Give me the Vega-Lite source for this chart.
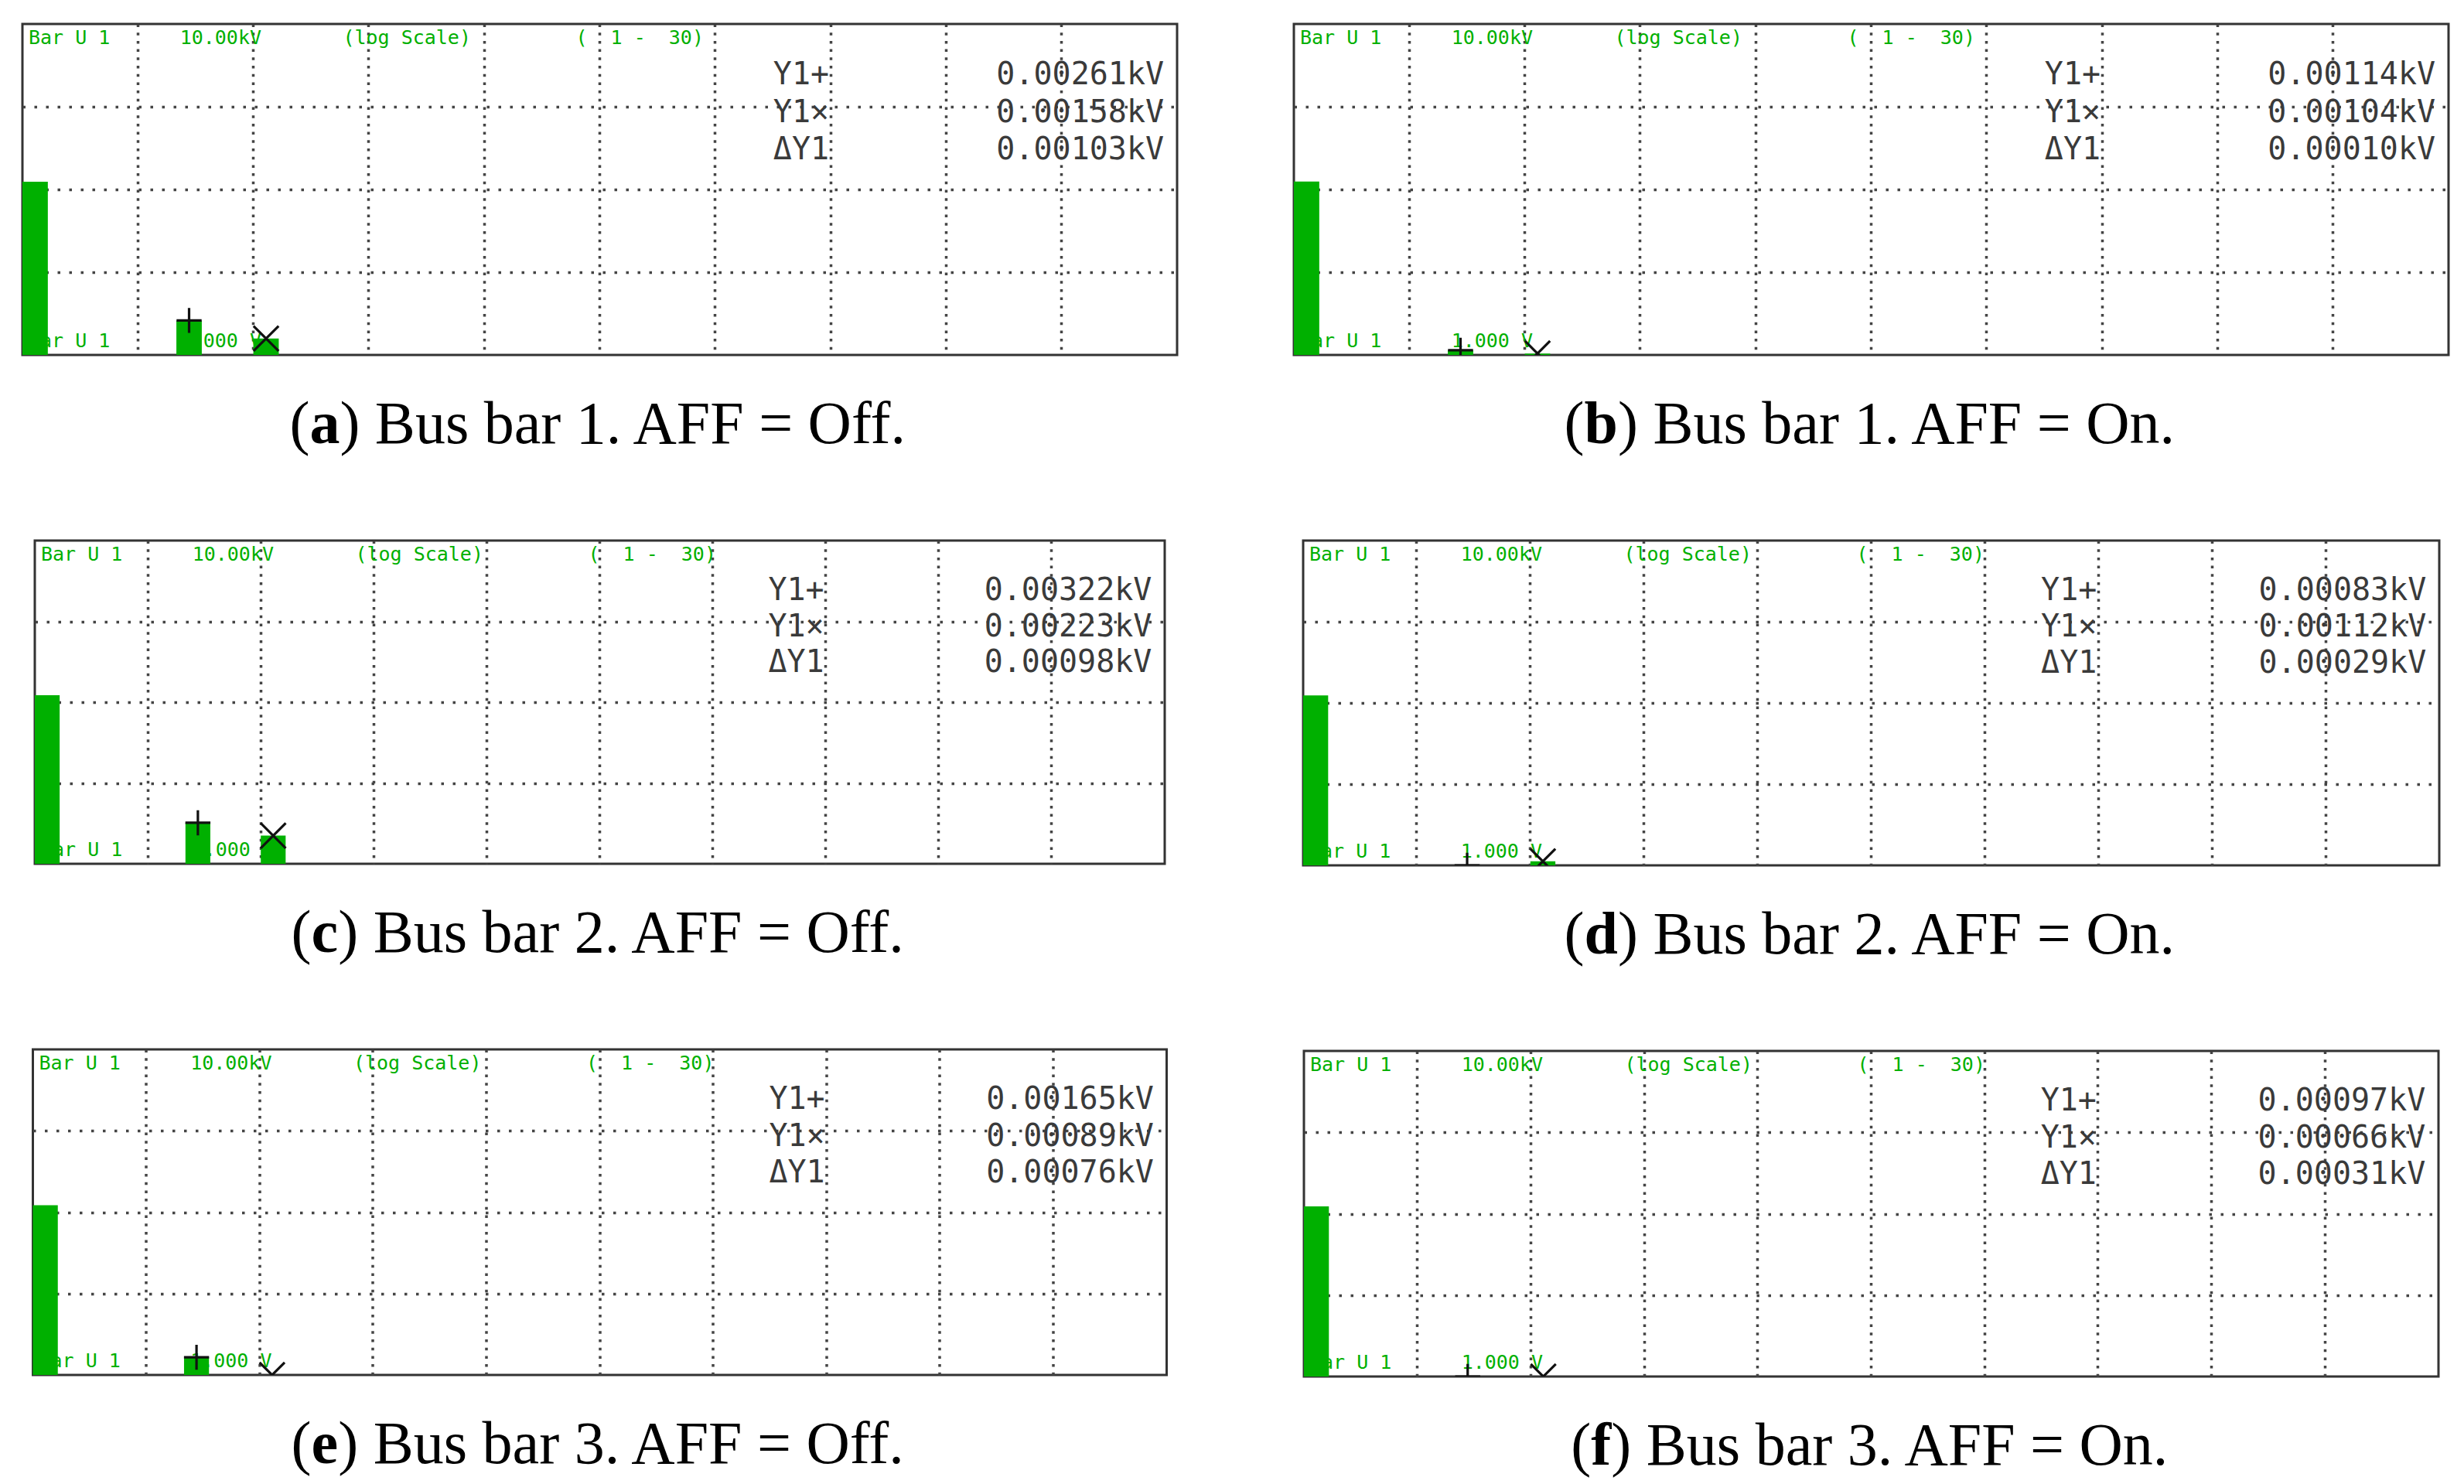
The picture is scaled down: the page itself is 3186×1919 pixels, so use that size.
{
"$schema": "https://vega.github.io/schema/vega-lite/v6.json",
"background": "white",
"padding": {"left": 27, "top": 29, "right": 0, "bottom": 0},
"config": {"view": {"stroke": "#333333", "strokeWidth": 3}},
"datasets": {
"bars": [
{"panel": "a", "h": 1, "volts": 124, "cursor": null},
{"panel": "a", "h": 5, "volts": 2.61, "cursor": "+"},
{"panel": "a", "h": 7, "volts": 1.58, "cursor": "×"},
{"panel": "b", "h": 1, "volts": 125, "cursor": null},
{"panel": "b", "h": 5, "volts": 1.14, "cursor": "+"},
{"panel": "b", "h": 7, "volts": 1.04, "cursor": "×"},
{"panel": "c", "h": 1, "volts": 122, "cursor": null},
{"panel": "c", "h": 5, "volts": 3.22, "cursor": "+"},
{"panel": "c", "h": 7, "volts": 2.23, "cursor": "×"},
{"panel": "d", "h": 1, "volts": 124, "cursor": null},
{"panel": "d", "h": 5, "volts": 0.83, "cursor": "+"},
{"panel": "d", "h": 7, "volts": 1.12, "cursor": "×"},
{"panel": "e", "h": 1, "volts": 122, "cursor": null},
{"panel": "e", "h": 5, "volts": 1.65, "cursor": "+"},
{"panel": "e", "h": 7, "volts": 0.89, "cursor": "×"},
{"panel": "f", "h": 1, "volts": 123, "cursor": null},
{"panel": "f", "h": 5, "volts": 0.97, "cursor": "+"},
{"panel": "f", "h": 7, "volts": 0.66, "cursor": "×"}
],
"readouts": [
{"panel": "a", "line": 1, "label": "Y1+", "reading": "0.00261kV"},
{"panel": "a", "line": 2, "label": "Y1×", "reading": "0.00158kV"},
{"panel": "a", "line": 3, "label": "ΔY1", "reading": "0.00103kV"},
{"panel": "b", "line": 1, "label": "Y1+", "reading": "0.00114kV"},
{"panel": "b", "line": 2, "label": "Y1×", "reading": "0.00104kV"},
{"panel": "b", "line": 3, "label": "ΔY1", "reading": "0.00010kV"},
{"panel": "c", "line": 1, "label": "Y1+", "reading": "0.00322kV"},
{"panel": "c", "line": 2, "label": "Y1×", "reading": "0.00223kV"},
{"panel": "c", "line": 3, "label": "ΔY1", "reading": "0.00098kV"},
{"panel": "d", "line": 1, "label": "Y1+", "reading": "0.00083kV"},
{"panel": "d", "line": 2, "label": "Y1×", "reading": "0.00112kV"},
{"panel": "d", "line": 3, "label": "ΔY1", "reading": "0.00029kV"},
{"panel": "e", "line": 1, "label": "Y1+", "reading": "0.00165kV"},
{"panel": "e", "line": 2, "label": "Y1×", "reading": "0.00089kV"},
{"panel": "e", "line": 3, "label": "ΔY1", "reading": "0.00076kV"},
{"panel": "f", "line": 1, "label": "Y1+", "reading": "0.00097kV"},
{"panel": "f", "line": 2, "label": "Y1×", "reading": "0.00066kV"},
{"panel": "f", "line": 3, "label": "ΔY1", "reading": "0.00031kV"}
],
"captions": [
{"panel": "a", "letter": "a", "rest": ") Bus bar 1. AFF = Off."},
{"panel": "b", "letter": "b", "rest": ") Bus bar 1. AFF = On."},
{"panel": "c", "letter": "c", "rest": ") Bus bar 2. AFF = Off."},
{"panel": "d", "letter": "d", "rest": ") Bus bar 2. AFF = On."},
{"panel": "e", "letter": "e", "rest": ") Bus bar 3. AFF = Off."},
{"panel": "f", "letter": "f", "rest": ") Bus bar 3. AFF = On."}
]
},
"spacing": 147,
"hconcat": [
{"vconcat": [
{"width": 1493, "height": 428, "resolve": {"scale": {"y": "independent"}}, "layer": [
 {"layer": [
  {"data": {"values": [{}]}, "mark": {"type": "text", "text": "Bar\u00a0U\u00a01\u00a0\u00a0\u00a0\u00a0\u00a0\u00a010.00kV\u00a0\u00a0\u00a0\u00a0\u00a0\u00a0\u00a0(log\u00a0Scale)\u00a0\u00a0\u00a0\u00a0\u00a0\u00a0\u00a0\u00a0\u00a0(\u00a0\u00a01\u00a0-\u00a0\u00a030)", "font": "DejaVu Sans Mono", "fontSize": 25, "color": "#00b000", "align": "left", "baseline": "top", "dx": 8, "dy": 6}, "encoding": {"x": {"datum": 1, "type": "ordinal", "bandPosition": 0}, "y": {"datum": 10000, "type": "quantitative"}}},
  {"data": {"values": [{}]}, "mark": {"type": "text", "text": "Bar\u00a0U\u00a01\u00a0\u00a0\u00a0\u00a0\u00a0\u00a01.000\u00a0V", "font": "DejaVu Sans Mono", "fontSize": 25, "color": "#00b000", "align": "left", "baseline": "alphabetic", "dx": 8, "dy": -10}, "encoding": {"x": {"datum": 1, "type": "ordinal", "bandPosition": 0}, "y": {"datum": 1, "type": "quantitative"}}},
  {"data": {"name": "bars"}, "transform": [{"filter": "datum.panel === 'a'"}], "mark": {"type": "bar", "color": "#00b000"}, "encoding": {"x": {"field": "h", "type": "ordinal", "scale": {"domain": [1,2,3,4,5,6,7,8,9,10,11,12,13,14,15,16,17,18,19,20,21,22,23,24,25,26,27,28,29,30], "paddingInner": 0.34, "paddingOuter": 0.17, "align": 0}, "axis": {"values": [4,7,10,13,16,19,22,25,28], "bandPosition": 0, "grid": true, "gridColor": "#444444", "gridDash": [3.5, 7.2], "gridWidth": 3.5, "gridOpacity": 1, "labels": false, "ticks": false, "domain": false, "title": null}}, "y": {"field": "volts", "type": "quantitative", "scale": {"type": "log", "domain": [1, 10000], "clamp": true, "nice": false}, "axis": {"values": [10, 100, 1000], "grid": true, "gridColor": "#444444", "gridDash": [3.5, 11.5], "gridWidth": 3.5, "gridOpacity": 1, "labels": false, "ticks": false, "domain": false, "title": null}}, "y2": {"datum": 1}}},
  {"data": {"name": "bars"}, "transform": [{"filter": "datum.panel === 'a' && datum.cursor"}], "mark": {"type": "point", "filled": false, "stroke": "#111111", "strokeWidth": 3.2, "size": 1050, "opacity": 1, "clip": true}, "encoding": {"x": {"field": "h", "type": "ordinal"}, "y": {"field": "volts", "type": "quantitative"}, "shape": {"field": "cursor", "type": "nominal", "scale": {"domain": ["+", "×"], "range": ["M-1,0L1,0M0,-1L0,1", "M-1,-1L1,1M-1,1L1,-1"]}, "legend": null}}},
  {"data": {"name": "captions"}, "transform": [{"filter": "datum.panel === 'a'"}], "mark": {"type": "text", "text": "(", "font": "Liberation Serif", "fontSize": 78, "color": "#000000", "align": "right", "baseline": "alphabetic", "dx": -375.1, "dy": 114}, "encoding": {"x": {"datum": 16, "type": "ordinal", "bandPosition": 0}, "y": {"datum": 1, "type": "quantitative"}}},
  {"data": {"name": "captions"}, "transform": [{"filter": "datum.panel === 'a'"}], "mark": {"type": "text", "font": "Liberation Serif", "fontSize": 78, "fontWeight": "bold", "color": "#000000", "align": "right", "baseline": "alphabetic", "dx": -336.1, "dy": 114}, "encoding": {"x": {"datum": 16, "type": "ordinal", "bandPosition": 0}, "y": {"datum": 1, "type": "quantitative"}, "text": {"field": "letter"}}},
  {"data": {"name": "captions"}, "transform": [{"filter": "datum.panel === 'a'"}], "mark": {"type": "text", "font": "Liberation Serif", "fontSize": 78, "color": "#000000", "align": "left", "baseline": "alphabetic", "dx": -336.1, "dy": 114}, "encoding": {"x": {"datum": 16, "type": "ordinal", "bandPosition": 0}, "y": {"datum": 1, "type": "quantitative"}, "text": {"field": "rest"}}}
 ]},
 {"data": {"name": "readouts"}, "transform": [{"filter": "datum.panel === 'a'"}], "mark": {"type": "text", "font": "DejaVu Sans Mono", "fontSize": 40, "color": "#3a3a3a", "align": "right", "baseline": "middle", "dx": -2}, "encoding": {"x": {"datum": 22, "type": "ordinal", "bandPosition": 0}, "y": {"field": "line", "type": "ordinal", "scale": {"type": "point", "domain": [1, 2, 3], "range": [66, 163], "padding": 0}, "axis": null}, "text": {"field": "label"}}},
 {"data": {"name": "readouts"}, "transform": [{"filter": "datum.panel === 'a'"}], "mark": {"type": "text", "font": "DejaVu Sans Mono", "fontSize": 40, "color": "#3a3a3a", "align": "right", "baseline": "middle"}, "encoding": {"x": {"datum": 30, "type": "ordinal", "bandPosition": 1}, "y": {"field": "line", "type": "ordinal", "scale": {"type": "point", "domain": [1, 2, 3], "range": [66, 163], "padding": 0}, "axis": null}, "text": {"field": "reading"}}}
]},
{"width": 1461, "height": 418, "resolve": {"scale": {"y": "independent"}}, "layer": [
 {"layer": [
  {"data": {"values": [{}]}, "mark": {"type": "text", "text": "Bar\u00a0U\u00a01\u00a0\u00a0\u00a0\u00a0\u00a0\u00a010.00kV\u00a0\u00a0\u00a0\u00a0\u00a0\u00a0\u00a0(log\u00a0Scale)\u00a0\u00a0\u00a0\u00a0\u00a0\u00a0\u00a0\u00a0\u00a0(\u00a0\u00a01\u00a0-\u00a0\u00a030)", "font": "DejaVu Sans Mono", "fontSize": 25, "color": "#00b000", "align": "left", "baseline": "top", "dx": 8, "dy": 6}, "encoding": {"x": {"datum": 1, "type": "ordinal", "bandPosition": 0}, "y": {"datum": 10000, "type": "quantitative"}}},
  {"data": {"values": [{}]}, "mark": {"type": "text", "text": "Bar\u00a0U\u00a01\u00a0\u00a0\u00a0\u00a0\u00a0\u00a01.000\u00a0V", "font": "DejaVu Sans Mono", "fontSize": 25, "color": "#00b000", "align": "left", "baseline": "alphabetic", "dx": 8, "dy": -10}, "encoding": {"x": {"datum": 1, "type": "ordinal", "bandPosition": 0}, "y": {"datum": 1, "type": "quantitative"}}},
  {"data": {"name": "bars"}, "transform": [{"filter": "datum.panel === 'c'"}], "mark": {"type": "bar", "color": "#00b000"}, "encoding": {"x": {"field": "h", "type": "ordinal", "scale": {"domain": [1,2,3,4,5,6,7,8,9,10,11,12,13,14,15,16,17,18,19,20,21,22,23,24,25,26,27,28,29,30], "paddingInner": 0.34, "paddingOuter": 0.17, "align": 0}, "axis": {"values": [4,7,10,13,16,19,22,25,28], "bandPosition": 0, "grid": true, "gridColor": "#444444", "gridDash": [3.5, 7.2], "gridWidth": 3.5, "gridOpacity": 1, "labels": false, "ticks": false, "domain": false, "title": null}}, "y": {"field": "volts", "type": "quantitative", "scale": {"type": "log", "domain": [1, 10000], "clamp": true, "nice": false}, "axis": {"values": [10, 100, 1000], "grid": true, "gridColor": "#444444", "gridDash": [3.5, 11.5], "gridWidth": 3.5, "gridOpacity": 1, "labels": false, "ticks": false, "domain": false, "title": null}}, "y2": {"datum": 1}}},
  {"data": {"name": "bars"}, "transform": [{"filter": "datum.panel === 'c' && datum.cursor"}], "mark": {"type": "point", "filled": false, "stroke": "#111111", "strokeWidth": 3.2, "size": 1050, "opacity": 1, "clip": true}, "encoding": {"x": {"field": "h", "type": "ordinal"}, "y": {"field": "volts", "type": "quantitative"}, "shape": {"field": "cursor", "type": "nominal", "scale": {"domain": ["+", "×"], "range": ["M-1,0L1,0M0,-1L0,1", "M-1,-1L1,1M-1,1L1,-1"]}, "legend": null}}},
  {"data": {"name": "captions"}, "transform": [{"filter": "datum.panel === 'c'"}], "mark": {"type": "text", "text": "(", "font": "Liberation Serif", "fontSize": 78, "color": "#000000", "align": "right", "baseline": "alphabetic", "dx": -372.9, "dy": 114}, "encoding": {"x": {"datum": 16, "type": "ordinal", "bandPosition": 0}, "y": {"datum": 1, "type": "quantitative"}}},
  {"data": {"name": "captions"}, "transform": [{"filter": "datum.panel === 'c'"}], "mark": {"type": "text", "font": "Liberation Serif", "fontSize": 78, "fontWeight": "bold", "color": "#000000", "align": "right", "baseline": "alphabetic", "dx": -338.3, "dy": 114}, "encoding": {"x": {"datum": 16, "type": "ordinal", "bandPosition": 0}, "y": {"datum": 1, "type": "quantitative"}, "text": {"field": "letter"}}},
  {"data": {"name": "captions"}, "transform": [{"filter": "datum.panel === 'c'"}], "mark": {"type": "text", "font": "Liberation Serif", "fontSize": 78, "color": "#000000", "align": "left", "baseline": "alphabetic", "dx": -338.3, "dy": 114}, "encoding": {"x": {"datum": 16, "type": "ordinal", "bandPosition": 0}, "y": {"datum": 1, "type": "quantitative"}, "text": {"field": "rest"}}}
 ]},
 {"data": {"name": "readouts"}, "transform": [{"filter": "datum.panel === 'c'"}], "mark": {"type": "text", "font": "DejaVu Sans Mono", "fontSize": 40, "color": "#3a3a3a", "align": "right", "baseline": "middle", "dx": -2}, "encoding": {"x": {"datum": 22, "type": "ordinal", "bandPosition": 0}, "y": {"field": "line", "type": "ordinal", "scale": {"type": "point", "domain": [1, 2, 3], "range": [65, 158], "padding": 0}, "axis": null}, "text": {"field": "label"}}},
 {"data": {"name": "readouts"}, "transform": [{"filter": "datum.panel === 'c'"}], "mark": {"type": "text", "font": "DejaVu Sans Mono", "fontSize": 40, "color": "#3a3a3a", "align": "right", "baseline": "middle"}, "encoding": {"x": {"datum": 30, "type": "ordinal", "bandPosition": 1}, "y": {"field": "line", "type": "ordinal", "scale": {"type": "point", "domain": [1, 2, 3], "range": [65, 158], "padding": 0}, "axis": null}, "text": {"field": "reading"}}}
]},
{"width": 1466, "height": 421, "resolve": {"scale": {"y": "independent"}}, "layer": [
 {"layer": [
  {"data": {"values": [{}]}, "mark": {"type": "text", "text": "Bar\u00a0U\u00a01\u00a0\u00a0\u00a0\u00a0\u00a0\u00a010.00kV\u00a0\u00a0\u00a0\u00a0\u00a0\u00a0\u00a0(log\u00a0Scale)\u00a0\u00a0\u00a0\u00a0\u00a0\u00a0\u00a0\u00a0\u00a0(\u00a0\u00a01\u00a0-\u00a0\u00a030)", "font": "DejaVu Sans Mono", "fontSize": 25, "color": "#00b000", "align": "left", "baseline": "top", "dx": 8, "dy": 6}, "encoding": {"x": {"datum": 1, "type": "ordinal", "bandPosition": 0}, "y": {"datum": 10000, "type": "quantitative"}}},
  {"data": {"values": [{}]}, "mark": {"type": "text", "text": "Bar\u00a0U\u00a01\u00a0\u00a0\u00a0\u00a0\u00a0\u00a01.000\u00a0V", "font": "DejaVu Sans Mono", "fontSize": 25, "color": "#00b000", "align": "left", "baseline": "alphabetic", "dx": 8, "dy": -10}, "encoding": {"x": {"datum": 1, "type": "ordinal", "bandPosition": 0}, "y": {"datum": 1, "type": "quantitative"}}},
  {"data": {"name": "bars"}, "transform": [{"filter": "datum.panel === 'e'"}], "mark": {"type": "bar", "color": "#00b000"}, "encoding": {"x": {"field": "h", "type": "ordinal", "scale": {"domain": [1,2,3,4,5,6,7,8,9,10,11,12,13,14,15,16,17,18,19,20,21,22,23,24,25,26,27,28,29,30], "paddingInner": 0.34, "paddingOuter": 0.17, "align": 0}, "axis": {"values": [4,7,10,13,16,19,22,25,28], "bandPosition": 0, "grid": true, "gridColor": "#444444", "gridDash": [3.5, 7.2], "gridWidth": 3.5, "gridOpacity": 1, "labels": false, "ticks": false, "domain": false, "title": null}}, "y": {"field": "volts", "type": "quantitative", "scale": {"type": "log", "domain": [1, 10000], "clamp": true, "nice": false}, "axis": {"values": [10, 100, 1000], "grid": true, "gridColor": "#444444", "gridDash": [3.5, 11.5], "gridWidth": 3.5, "gridOpacity": 1, "labels": false, "ticks": false, "domain": false, "title": null}}, "y2": {"datum": 1}}},
  {"data": {"name": "bars"}, "transform": [{"filter": "datum.panel === 'e' && datum.cursor"}], "mark": {"type": "point", "filled": false, "stroke": "#111111", "strokeWidth": 3.2, "size": 1050, "opacity": 1, "clip": true}, "encoding": {"x": {"field": "h", "type": "ordinal"}, "y": {"field": "volts", "type": "quantitative"}, "shape": {"field": "cursor", "type": "nominal", "scale": {"domain": ["+", "×"], "range": ["M-1,0L1,0M0,-1L0,1", "M-1,-1L1,1M-1,1L1,-1"]}, "legend": null}}},
  {"data": {"name": "captions"}, "transform": [{"filter": "datum.panel === 'e'"}], "mark": {"type": "text", "text": "(", "font": "Liberation Serif", "fontSize": 78, "color": "#000000", "align": "right", "baseline": "alphabetic", "dx": -372.9, "dy": 114}, "encoding": {"x": {"datum": 16, "type": "ordinal", "bandPosition": 0}, "y": {"datum": 1, "type": "quantitative"}}},
  {"data": {"name": "captions"}, "transform": [{"filter": "datum.panel === 'e'"}], "mark": {"type": "text", "font": "Liberation Serif", "fontSize": 78, "fontWeight": "bold", "color": "#000000", "align": "right", "baseline": "alphabetic", "dx": -338.3, "dy": 114}, "encoding": {"x": {"datum": 16, "type": "ordinal", "bandPosition": 0}, "y": {"datum": 1, "type": "quantitative"}, "text": {"field": "letter"}}},
  {"data": {"name": "captions"}, "transform": [{"filter": "datum.panel === 'e'"}], "mark": {"type": "text", "font": "Liberation Serif", "fontSize": 78, "color": "#000000", "align": "left", "baseline": "alphabetic", "dx": -338.3, "dy": 114}, "encoding": {"x": {"datum": 16, "type": "ordinal", "bandPosition": 0}, "y": {"datum": 1, "type": "quantitative"}, "text": {"field": "rest"}}}
 ]},
 {"data": {"name": "readouts"}, "transform": [{"filter": "datum.panel === 'e'"}], "mark": {"type": "text", "font": "DejaVu Sans Mono", "fontSize": 40, "color": "#3a3a3a", "align": "right", "baseline": "middle", "dx": -2}, "encoding": {"x": {"datum": 22, "type": "ordinal", "bandPosition": 0}, "y": {"field": "line", "type": "ordinal", "scale": {"type": "point", "domain": [1, 2, 3], "range": [65, 160], "padding": 0}, "axis": null}, "text": {"field": "label"}}},
 {"data": {"name": "readouts"}, "transform": [{"filter": "datum.panel === 'e'"}], "mark": {"type": "text", "font": "DejaVu Sans Mono", "fontSize": 40, "color": "#3a3a3a", "align": "right", "baseline": "middle"}, "encoding": {"x": {"datum": 30, "type": "ordinal", "bandPosition": 1}, "y": {"field": "line", "type": "ordinal", "scale": {"type": "point", "domain": [1, 2, 3], "range": [65, 160], "padding": 0}, "axis": null}, "text": {"field": "reading"}}}
]}
], "spacing": 240, "center": true, "bounds": "flush"},
{"vconcat": [
{"width": 1493, "height": 428, "resolve": {"scale": {"y": "independent"}}, "layer": [
 {"layer": [
  {"data": {"values": [{}]}, "mark": {"type": "text", "text": "Bar\u00a0U\u00a01\u00a0\u00a0\u00a0\u00a0\u00a0\u00a010.00kV\u00a0\u00a0\u00a0\u00a0\u00a0\u00a0\u00a0(log\u00a0Scale)\u00a0\u00a0\u00a0\u00a0\u00a0\u00a0\u00a0\u00a0\u00a0(\u00a0\u00a01\u00a0-\u00a0\u00a030)", "font": "DejaVu Sans Mono", "fontSize": 25, "color": "#00b000", "align": "left", "baseline": "top", "dx": 8, "dy": 6}, "encoding": {"x": {"datum": 1, "type": "ordinal", "bandPosition": 0}, "y": {"datum": 10000, "type": "quantitative"}}},
  {"data": {"values": [{}]}, "mark": {"type": "text", "text": "Bar\u00a0U\u00a01\u00a0\u00a0\u00a0\u00a0\u00a0\u00a01.000\u00a0V", "font": "DejaVu Sans Mono", "fontSize": 25, "color": "#00b000", "align": "left", "baseline": "alphabetic", "dx": 8, "dy": -10}, "encoding": {"x": {"datum": 1, "type": "ordinal", "bandPosition": 0}, "y": {"datum": 1, "type": "quantitative"}}},
  {"data": {"name": "bars"}, "transform": [{"filter": "datum.panel === 'b'"}], "mark": {"type": "bar", "color": "#00b000"}, "encoding": {"x": {"field": "h", "type": "ordinal", "scale": {"domain": [1,2,3,4,5,6,7,8,9,10,11,12,13,14,15,16,17,18,19,20,21,22,23,24,25,26,27,28,29,30], "paddingInner": 0.34, "paddingOuter": 0.17, "align": 0}, "axis": {"values": [4,7,10,13,16,19,22,25,28], "bandPosition": 0, "grid": true, "gridColor": "#444444", "gridDash": [3.5, 7.2], "gridWidth": 3.5, "gridOpacity": 1, "labels": false, "ticks": false, "domain": false, "title": null}}, "y": {"field": "volts", "type": "quantitative", "scale": {"type": "log", "domain": [1, 10000], "clamp": true, "nice": false}, "axis": {"values": [10, 100, 1000], "grid": true, "gridColor": "#444444", "gridDash": [3.5, 11.5], "gridWidth": 3.5, "gridOpacity": 1, "labels": false, "ticks": false, "domain": false, "title": null}}, "y2": {"datum": 1}}},
  {"data": {"name": "bars"}, "transform": [{"filter": "datum.panel === 'b' && datum.cursor"}], "mark": {"type": "point", "filled": false, "stroke": "#111111", "strokeWidth": 3.2, "size": 1050, "opacity": 1, "clip": true}, "encoding": {"x": {"field": "h", "type": "ordinal"}, "y": {"field": "volts", "type": "quantitative"}, "shape": {"field": "cursor", "type": "nominal", "scale": {"domain": ["+", "×"], "range": ["M-1,0L1,0M0,-1L0,1", "M-1,-1L1,1M-1,1L1,-1"]}, "legend": null}}},
  {"data": {"name": "captions"}, "transform": [{"filter": "datum.panel === 'b'"}], "mark": {"type": "text", "text": "(", "font": "Liberation Serif", "fontSize": 78, "color": "#000000", "align": "right", "baseline": "alphabetic", "dx": -370.9, "dy": 114}, "encoding": {"x": {"datum": 16, "type": "ordinal", "bandPosition": 0}, "y": {"datum": 1, "type": "quantitative"}}},
  {"data": {"name": "captions"}, "transform": [{"filter": "datum.panel === 'b'"}], "mark": {"type": "text", "font": "Liberation Serif", "fontSize": 78, "fontWeight": "bold", "color": "#000000", "align": "right", "baseline": "alphabetic", "dx": -327.5, "dy": 114}, "encoding": {"x": {"datum": 16, "type": "ordinal", "bandPosition": 0}, "y": {"datum": 1, "type": "quantitative"}, "text": {"field": "letter"}}},
  {"data": {"name": "captions"}, "transform": [{"filter": "datum.panel === 'b'"}], "mark": {"type": "text", "font": "Liberation Serif", "fontSize": 78, "color": "#000000", "align": "left", "baseline": "alphabetic", "dx": -327.5, "dy": 114}, "encoding": {"x": {"datum": 16, "type": "ordinal", "bandPosition": 0}, "y": {"datum": 1, "type": "quantitative"}, "text": {"field": "rest"}}}
 ]},
 {"data": {"name": "readouts"}, "transform": [{"filter": "datum.panel === 'b'"}], "mark": {"type": "text", "font": "DejaVu Sans Mono", "fontSize": 40, "color": "#3a3a3a", "align": "right", "baseline": "middle", "dx": -2}, "encoding": {"x": {"datum": 22, "type": "ordinal", "bandPosition": 0}, "y": {"field": "line", "type": "ordinal", "scale": {"type": "point", "domain": [1, 2, 3], "range": [66, 163], "padding": 0}, "axis": null}, "text": {"field": "label"}}},
 {"data": {"name": "readouts"}, "transform": [{"filter": "datum.panel === 'b'"}], "mark": {"type": "text", "font": "DejaVu Sans Mono", "fontSize": 40, "color": "#3a3a3a", "align": "right", "baseline": "middle"}, "encoding": {"x": {"datum": 30, "type": "ordinal", "bandPosition": 1}, "y": {"field": "line", "type": "ordinal", "scale": {"type": "point", "domain": [1, 2, 3], "range": [66, 163], "padding": 0}, "axis": null}, "text": {"field": "reading"}}}
]},
{"width": 1469, "height": 420, "resolve": {"scale": {"y": "independent"}}, "layer": [
 {"layer": [
  {"data": {"values": [{}]}, "mark": {"type": "text", "text": "Bar\u00a0U\u00a01\u00a0\u00a0\u00a0\u00a0\u00a0\u00a010.00kV\u00a0\u00a0\u00a0\u00a0\u00a0\u00a0\u00a0(log\u00a0Scale)\u00a0\u00a0\u00a0\u00a0\u00a0\u00a0\u00a0\u00a0\u00a0(\u00a0\u00a01\u00a0-\u00a0\u00a030)", "font": "DejaVu Sans Mono", "fontSize": 25, "color": "#00b000", "align": "left", "baseline": "top", "dx": 8, "dy": 6}, "encoding": {"x": {"datum": 1, "type": "ordinal", "bandPosition": 0}, "y": {"datum": 10000, "type": "quantitative"}}},
  {"data": {"values": [{}]}, "mark": {"type": "text", "text": "Bar\u00a0U\u00a01\u00a0\u00a0\u00a0\u00a0\u00a0\u00a01.000\u00a0V", "font": "DejaVu Sans Mono", "fontSize": 25, "color": "#00b000", "align": "left", "baseline": "alphabetic", "dx": 8, "dy": -10}, "encoding": {"x": {"datum": 1, "type": "ordinal", "bandPosition": 0}, "y": {"datum": 1, "type": "quantitative"}}},
  {"data": {"name": "bars"}, "transform": [{"filter": "datum.panel === 'd'"}], "mark": {"type": "bar", "color": "#00b000"}, "encoding": {"x": {"field": "h", "type": "ordinal", "scale": {"domain": [1,2,3,4,5,6,7,8,9,10,11,12,13,14,15,16,17,18,19,20,21,22,23,24,25,26,27,28,29,30], "paddingInner": 0.34, "paddingOuter": 0.17, "align": 0}, "axis": {"values": [4,7,10,13,16,19,22,25,28], "bandPosition": 0, "grid": true, "gridColor": "#444444", "gridDash": [3.5, 7.2], "gridWidth": 3.5, "gridOpacity": 1, "labels": false, "ticks": false, "domain": false, "title": null}}, "y": {"field": "volts", "type": "quantitative", "scale": {"type": "log", "domain": [1, 10000], "clamp": true, "nice": false}, "axis": {"values": [10, 100, 1000], "grid": true, "gridColor": "#444444", "gridDash": [3.5, 11.5], "gridWidth": 3.5, "gridOpacity": 1, "labels": false, "ticks": false, "domain": false, "title": null}}, "y2": {"datum": 1}}},
  {"data": {"name": "bars"}, "transform": [{"filter": "datum.panel === 'd' && datum.cursor"}], "mark": {"type": "point", "filled": false, "stroke": "#111111", "strokeWidth": 3.2, "size": 1050, "opacity": 1, "clip": true}, "encoding": {"x": {"field": "h", "type": "ordinal"}, "y": {"field": "volts", "type": "quantitative"}, "shape": {"field": "cursor", "type": "nominal", "scale": {"domain": ["+", "×"], "range": ["M-1,0L1,0M0,-1L0,1", "M-1,-1L1,1M-1,1L1,-1"]}, "legend": null}}},
  {"data": {"name": "captions"}, "transform": [{"filter": "datum.panel === 'd'"}], "mark": {"type": "text", "text": "(", "font": "Liberation Serif", "fontSize": 78, "color": "#000000", "align": "right", "baseline": "alphabetic", "dx": -370.9, "dy": 114}, "encoding": {"x": {"datum": 16, "type": "ordinal", "bandPosition": 0}, "y": {"datum": 1, "type": "quantitative"}}},
  {"data": {"name": "captions"}, "transform": [{"filter": "datum.panel === 'd'"}], "mark": {"type": "text", "font": "Liberation Serif", "fontSize": 78, "fontWeight": "bold", "color": "#000000", "align": "right", "baseline": "alphabetic", "dx": -327.5, "dy": 114}, "encoding": {"x": {"datum": 16, "type": "ordinal", "bandPosition": 0}, "y": {"datum": 1, "type": "quantitative"}, "text": {"field": "letter"}}},
  {"data": {"name": "captions"}, "transform": [{"filter": "datum.panel === 'd'"}], "mark": {"type": "text", "font": "Liberation Serif", "fontSize": 78, "color": "#000000", "align": "left", "baseline": "alphabetic", "dx": -327.5, "dy": 114}, "encoding": {"x": {"datum": 16, "type": "ordinal", "bandPosition": 0}, "y": {"datum": 1, "type": "quantitative"}, "text": {"field": "rest"}}}
 ]},
 {"data": {"name": "readouts"}, "transform": [{"filter": "datum.panel === 'd'"}], "mark": {"type": "text", "font": "DejaVu Sans Mono", "fontSize": 40, "color": "#3a3a3a", "align": "right", "baseline": "middle", "dx": -2}, "encoding": {"x": {"datum": 22, "type": "ordinal", "bandPosition": 0}, "y": {"field": "line", "type": "ordinal", "scale": {"type": "point", "domain": [1, 2, 3], "range": [65, 159], "padding": 0}, "axis": null}, "text": {"field": "label"}}},
 {"data": {"name": "readouts"}, "transform": [{"filter": "datum.panel === 'd'"}], "mark": {"type": "text", "font": "DejaVu Sans Mono", "fontSize": 40, "color": "#3a3a3a", "align": "right", "baseline": "middle"}, "encoding": {"x": {"datum": 30, "type": "ordinal", "bandPosition": 1}, "y": {"field": "line", "type": "ordinal", "scale": {"type": "point", "domain": [1, 2, 3], "range": [65, 159], "padding": 0}, "axis": null}, "text": {"field": "reading"}}}
]},
{"width": 1467, "height": 421, "resolve": {"scale": {"y": "independent"}}, "layer": [
 {"layer": [
  {"data": {"values": [{}]}, "mark": {"type": "text", "text": "Bar\u00a0U\u00a01\u00a0\u00a0\u00a0\u00a0\u00a0\u00a010.00kV\u00a0\u00a0\u00a0\u00a0\u00a0\u00a0\u00a0(log\u00a0Scale)\u00a0\u00a0\u00a0\u00a0\u00a0\u00a0\u00a0\u00a0\u00a0(\u00a0\u00a01\u00a0-\u00a0\u00a030)", "font": "DejaVu Sans Mono", "fontSize": 25, "color": "#00b000", "align": "left", "baseline": "top", "dx": 8, "dy": 6}, "encoding": {"x": {"datum": 1, "type": "ordinal", "bandPosition": 0}, "y": {"datum": 10000, "type": "quantitative"}}},
  {"data": {"values": [{}]}, "mark": {"type": "text", "text": "Bar\u00a0U\u00a01\u00a0\u00a0\u00a0\u00a0\u00a0\u00a01.000\u00a0V", "font": "DejaVu Sans Mono", "fontSize": 25, "color": "#00b000", "align": "left", "baseline": "alphabetic", "dx": 8, "dy": -10}, "encoding": {"x": {"datum": 1, "type": "ordinal", "bandPosition": 0}, "y": {"datum": 1, "type": "quantitative"}}},
  {"data": {"name": "bars"}, "transform": [{"filter": "datum.panel === 'f'"}], "mark": {"type": "bar", "color": "#00b000"}, "encoding": {"x": {"field": "h", "type": "ordinal", "scale": {"domain": [1,2,3,4,5,6,7,8,9,10,11,12,13,14,15,16,17,18,19,20,21,22,23,24,25,26,27,28,29,30], "paddingInner": 0.34, "paddingOuter": 0.17, "align": 0}, "axis": {"values": [4,7,10,13,16,19,22,25,28], "bandPosition": 0, "grid": true, "gridColor": "#444444", "gridDash": [3.5, 7.2], "gridWidth": 3.5, "gridOpacity": 1, "labels": false, "ticks": false, "domain": false, "title": null}}, "y": {"field": "volts", "type": "quantitative", "scale": {"type": "log", "domain": [1, 10000], "clamp": true, "nice": false}, "axis": {"values": [10, 100, 1000], "grid": true, "gridColor": "#444444", "gridDash": [3.5, 11.5], "gridWidth": 3.5, "gridOpacity": 1, "labels": false, "ticks": false, "domain": false, "title": null}}, "y2": {"datum": 1}}},
  {"data": {"name": "bars"}, "transform": [{"filter": "datum.panel === 'f' && datum.cursor"}], "mark": {"type": "point", "filled": false, "stroke": "#111111", "strokeWidth": 3.2, "size": 1050, "opacity": 1, "clip": true}, "encoding": {"x": {"field": "h", "type": "ordinal"}, "y": {"field": "volts", "type": "quantitative"}, "shape": {"field": "cursor", "type": "nominal", "scale": {"domain": ["+", "×"], "range": ["M-1,0L1,0M0,-1L0,1", "M-1,-1L1,1M-1,1L1,-1"]}, "legend": null}}},
  {"data": {"name": "captions"}, "transform": [{"filter": "datum.panel === 'f'"}], "mark": {"type": "text", "text": "(", "font": "Liberation Serif", "fontSize": 78, "color": "#000000", "align": "right", "baseline": "alphabetic", "dx": -362.2, "dy": 114}, "encoding": {"x": {"datum": 16, "type": "ordinal", "bandPosition": 0}, "y": {"datum": 1, "type": "quantitative"}}},
  {"data": {"name": "captions"}, "transform": [{"filter": "datum.panel === 'f'"}], "mark": {"type": "text", "font": "Liberation Serif", "fontSize": 78, "fontWeight": "bold", "color": "#000000", "align": "right", "baseline": "alphabetic", "dx": -336.2, "dy": 114}, "encoding": {"x": {"datum": 16, "type": "ordinal", "bandPosition": 0}, "y": {"datum": 1, "type": "quantitative"}, "text": {"field": "letter"}}},
  {"data": {"name": "captions"}, "transform": [{"filter": "datum.panel === 'f'"}], "mark": {"type": "text", "font": "Liberation Serif", "fontSize": 78, "color": "#000000", "align": "left", "baseline": "alphabetic", "dx": -336.2, "dy": 114}, "encoding": {"x": {"datum": 16, "type": "ordinal", "bandPosition": 0}, "y": {"datum": 1, "type": "quantitative"}, "text": {"field": "rest"}}}
 ]},
 {"data": {"name": "readouts"}, "transform": [{"filter": "datum.panel === 'f'"}], "mark": {"type": "text", "font": "DejaVu Sans Mono", "fontSize": 40, "color": "#3a3a3a", "align": "right", "baseline": "middle", "dx": -2}, "encoding": {"x": {"datum": 22, "type": "ordinal", "bandPosition": 0}, "y": {"field": "line", "type": "ordinal", "scale": {"type": "point", "domain": [1, 2, 3], "range": [65, 160], "padding": 0}, "axis": null}, "text": {"field": "label"}}},
 {"data": {"name": "readouts"}, "transform": [{"filter": "datum.panel === 'f'"}], "mark": {"type": "text", "font": "DejaVu Sans Mono", "fontSize": 40, "color": "#3a3a3a", "align": "right", "baseline": "middle"}, "encoding": {"x": {"datum": 30, "type": "ordinal", "bandPosition": 1}, "y": {"field": "line", "type": "ordinal", "scale": {"type": "point", "domain": [1, 2, 3], "range": [65, 160], "padding": 0}, "axis": null}, "text": {"field": "reading"}}}
]}
], "spacing": 240, "center": true, "bounds": "flush"}
]
}
